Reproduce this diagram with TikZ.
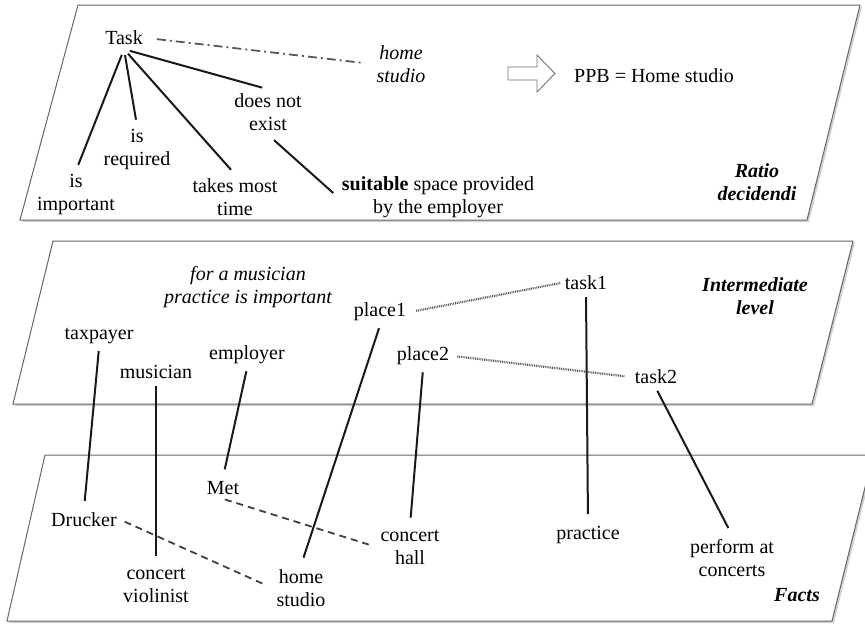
\documentclass[tikz,border=0pt]{standalone}
\usepackage{fontspec}
\setmainfont{Liberation Serif}
\begin{document}
\begin{tikzpicture}[x=1pt,y=-1pt,
  every node/.style={font=\fontsize{20}{23}\selectfont, text=black, inner sep=4pt, align=center},
  plane/.style={fill=white, draw=black!60, line width=1pt},
  planeshadow/.style={fill=black!18, draw=none},
  link/.style={draw=black!90, line width=2pt, shorten <=3pt, shorten >=8pt},
  rellink/.style={draw=black!65, line width=2.2pt, dash pattern=on 0.9pt off 0.9pt},
  samelink/.style={draw=black!75, line width=1.8pt, dash pattern=on 7pt off 5pt},
  refline/.style={draw=black!65, line width=1.8pt, dash pattern=on 9pt off 4pt on 2pt off 4pt},
  levelname/.style={font=\fontsize{20}{23}\selectfont\bfseries\itshape}]
\useasboundingbox (0,0) rectangle (865,624);

% the three planes, each with a faint shadow
\fill[planeshadow] (80,7) -- (862,7) -- (809,222) -- (22,222) -- cycle;
\path[plane] (78,5) -- (860,5) -- (807,220) -- (20,220) -- cycle;
\fill[planeshadow] (55,243) -- (855,243) -- (814,406) -- (15,406) -- cycle;
\path[plane] (53,241) -- (853,241) -- (812,404) -- (13,404) -- cycle;
\fill[planeshadow] (47,457) -- (875,457) -- (834,623) -- (9,623) -- cycle;
\path[plane] (45,455) -- (873,455) -- (832,621) -- (7,621) -- cycle;

% ratio decidendi
\node (task) at (124,38) {Task};
\node (hsref) at (401,64) {\itshape home\\\itshape studio};
\node (isimp) at (76,195) {is\\important};
\node (isreq) at (137,150) {is\\required};
\node (takes) at (235,197) {takes most\\time};
\node (notexist) at (268,112) {does not\\exist};
\node (suitable) at (438,197) {\textbf{suitable} space provided\\by the employer};
\node (ppb) at (654,76) {PPB = Home studio};
\node[levelname] (ratio) at (757,182) {Ratio\\decidendi};
\draw[draw=black!55, fill=white, line width=0.9pt]
  (508,67) -- (537,67) -- (537,55) -- (555,73.5) -- (537,92) -- (537,80) -- (508,80) -- cycle;

\draw[link, shorten <=6pt, shorten >=6pt] (task.south) -- (isimp.north);
\draw[link, shorten <=6pt, shorten >=6pt] (task.south) -- (isreq.north);
\draw[link, shorten <=6pt, shorten >=6pt] (task.south) -- (takes.north);
\draw[link, shorten <=6pt, shorten >=6pt] (task.south) -- (notexist.north);
\draw[link, shorten <=8pt, shorten >=6pt] (notexist.south) -- (suitable.west);
\draw[refline, shorten <=10pt, shorten >=10pt] (task.east) -- (hsref.west);

% intermediate level
\node (musnote) at (248,287) {\itshape for a musician\\\itshape practice is important};
\node (taxpayer) at (99,336) {taxpayer};
\node (musician) at (156,372) {musician};
\node (employer) at (247,355) {employer};
\node (place1) at (380,312) {place1};
\node (place2) at (423,356) {place2};
\node (task1) at (586,283) {task1};
\node (task2) at (656,377) {task2};
\node[levelname] (inter) at (755,296) {Intermediate\\level};

\draw[rellink, shorten <=6pt, shorten >=0pt] (place1.east) -- (task1.west);
\draw[rellink, shorten <=4pt, shorten >=6pt] (place2.east) -- (task2.west);

% facts
\node (drucker) at (84,520) {Drucker};
\node (met) at (223,488) {Met};
\node (violinist) at (156,585) {concert\\violinist};
\node (homestudio) at (301,588) {home\\studio};
\node (hall) at (410,547) {concert\\hall};
\node (practice) at (588,535) {practice};
\node (perform) at (732,558) {perform at\\concerts};
\node[levelname] (facts) at (797,595) {Facts};

\draw[samelink, shorten <=4pt, shorten >=10pt] (drucker.east) -- (homestudio.west);
\draw[samelink, shorten <=2pt, shorten >=8pt] (met.south) -- (hall.west);

% links from the intermediate level down to the facts
\draw[link] (taxpayer.south) -- (drucker.north);
\draw[link] (musician.south) -- (violinist.north);
\draw[link] (employer.south) -- (met.north);
\draw[link] (place1.south) -- (homestudio.north);
\draw[link] (place2.south) -- (hall.north);
\draw[link] (task1.south) -- (practice.north);
\draw[link] (task2.south) -- (perform.north);
\end{tikzpicture}
\end{document}
